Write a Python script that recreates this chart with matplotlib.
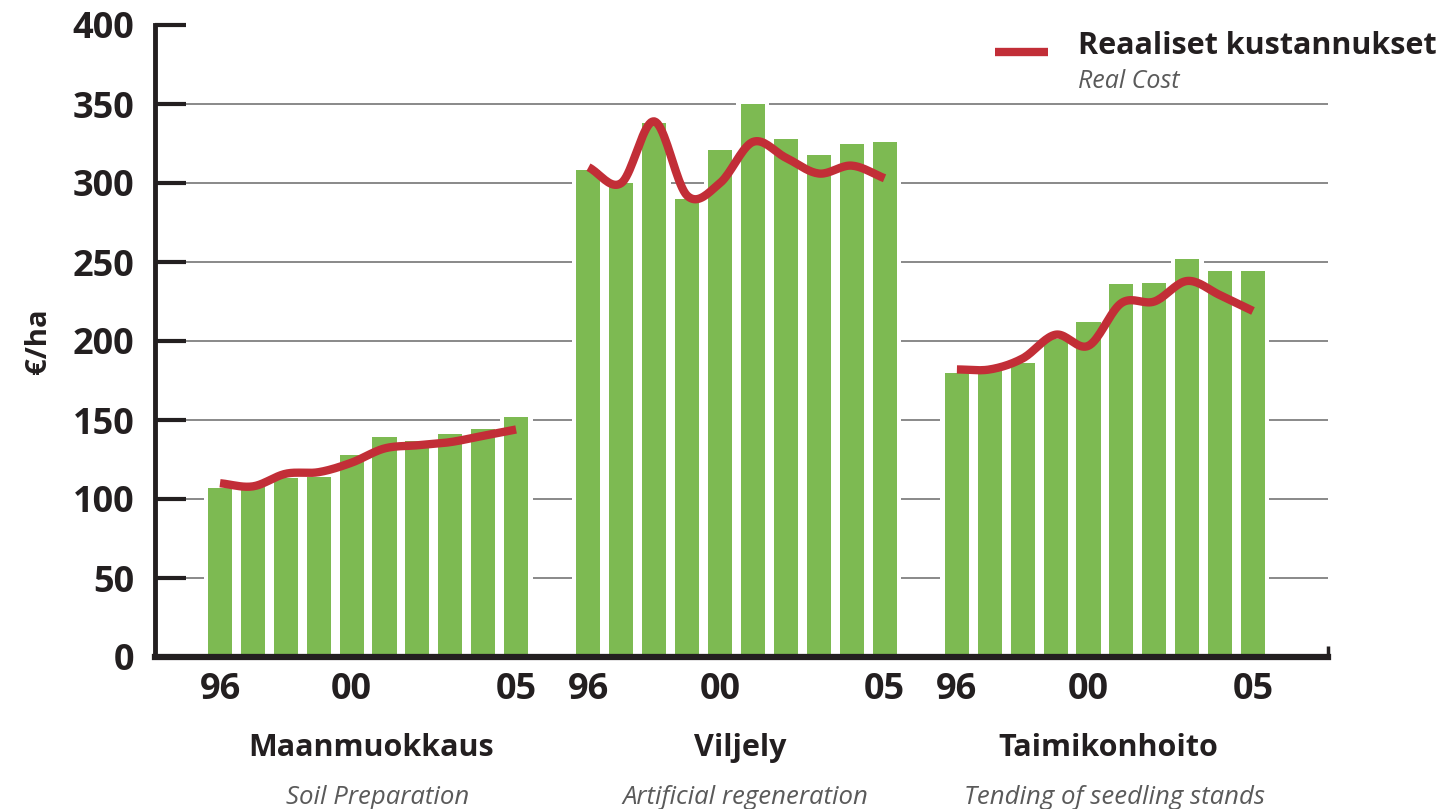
import matplotlib.pyplot as plt
import numpy as np

plt.rcParams['font.family'] = ['Open Sans', 'DejaVu Sans']

# data
years = ['96', '97', '98', '99', '00', '01', '02', '03', '04', '05']
groups = ['Maanmuokkaus', 'Viljely', 'Taimikonhoito']
groups_en = ['Soil Preparation', 'Artificial regeneration', 'Tending of seedling stands']

soil_bars = [107, 108, 113, 114, 128, 139, 137, 141, 144, 152]
soil_real = [110, 108, 116, 117, 123, 132, 134, 136, 140, 144]

regen_bars = [308, 300, 338, 290, 321, 350, 328, 318, 325, 326]
regen_real = [310, 300, 339, 292, 300, 326, 316, 306, 311, 303]

tend_bars = [180, 181, 186, 201, 212, 236, 237, 252, 244, 244]
tend_real = [182, 182, 189, 204, 197, 224, 225, 238, 229, 219]

bar_data = [soil_bars, regen_bars, tend_bars]
line_data = [soil_real, regen_real, tend_real]

GREEN = '#7dba52'
RED = '#c22e37'
DARK = '#231f20'
GROUP_STEP = 11.2


def smooth(xs, ys, n=20):
    # catmull-rom curve through the points, only for drawing
    xs = np.asarray(xs, float)
    ys = np.asarray(ys, float)
    px = np.concatenate([[2 * xs[0] - xs[1]], xs, [2 * xs[-1] - xs[-2]]])
    py = np.concatenate([[2 * ys[0] - ys[1]], ys, [2 * ys[-1] - ys[-2]]])
    out_x, out_y = [], []
    t = np.linspace(0, 1, n, endpoint=False)
    for i in range(1, len(px) - 2):
        for p, out in ((px, out_x), (py, out_y)):
            p0, p1, p2, p3 = p[i - 1], p[i], p[i + 1], p[i + 2]
            out.extend(0.5 * (2 * p1 + (-p0 + p2) * t
                              + (2 * p0 - 5 * p1 + 4 * p2 - p3) * t ** 2
                              + (-p0 + 3 * p1 - 3 * p2 + p3) * t ** 3))
    out_x.append(xs[-1])
    out_y.append(ys[-1])
    return out_x, out_y


fig = plt.figure(figsize=(14.49, 8.09), dpi=100)
ax = fig.add_axes([155 / 1449, 1 - 657 / 809, 1173 / 1449, 632 / 809])

for y in range(50, 400, 50):
    ax.axhline(y, color='#808080', lw=1.3, zorder=0)

tick_pos, tick_lab = [], []
for g in range(3):
    x = g * GROUP_STEP + np.arange(len(years))
    ax.bar(x, np.array(bar_data[g]) + 1.5, width=1.0, color='white', zorder=1)
    ax.bar(x, bar_data[g], width=0.73, color=GREEN, zorder=2)
    lx, ly = smooth(x, line_data[g])
    ax.plot(lx, ly, color=RED, lw=6, solid_capstyle='butt', zorder=3)
    for i in (0, 4, 9):
        tick_pos.append(x[i])
        tick_lab.append(years[i])
    cx = x.mean()
    ax.text(cx + 0.1, -0.144, groups[g], transform=ax.get_xaxis_transform(),
            ha='center', va='center', fontsize=22, fontweight='bold', color=DARK)
    ax.text(cx + 0.28, -0.222, groups_en[g], transform=ax.get_xaxis_transform(),
            ha='center', va='center', fontsize=18.5, style='italic', color='#5a5a5a')

ax.set_xlim(-1.976, 33.68)
ax.set_ylim(0, 400)
ax.set_yticks(range(0, 401, 50))
ax.set_xticks(tick_pos)
ax.set_xticklabels(tick_lab)
ax.tick_params(axis='y', direction='in', length=22, width=3, color=DARK,
               pad=15, labelsize=26, labelcolor=DARK)
ax.tick_params(axis='x', length=0, pad=11, labelsize=26, labelcolor=DARK)
for lab in ax.get_xticklabels() + ax.get_yticklabels():
    lab.set_fontweight('bold')

for s in ('top', 'right'):
    ax.spines[s].set_visible(False)
ax.spines['left'].set_linewidth(3.5)
ax.spines['left'].set_color(DARK)
ax.spines['bottom'].set_linewidth(4.5)
ax.spines['bottom'].set_color(DARK)
# small upturn at the right end of the x axis
ax.plot([1, 1], [0, 0.018], transform=ax.transAxes, color=DARK, lw=2.5,
        clip_on=False, solid_capstyle='butt')

ax.set_ylabel('€/ha', fontsize=21, fontweight='bold', color=DARK, labelpad=14)

# legend drawn by hand like the original
ax.plot([0.716, 0.761], [0.957, 0.957], transform=ax.transAxes, color=RED,
        lw=6, solid_capstyle='butt', clip_on=False)
ax.text(0.787, 0.967, 'Reaaliset kustannukset', transform=ax.transAxes,
        ha='left', va='center', fontsize=22, fontweight='bold', color=DARK)
ax.text(0.787, 0.911, 'Real Cost', transform=ax.transAxes,
        ha='left', va='center', fontsize=18, style='italic', color='#5a5a5a')

fig.savefig('out.png', dpi=100)
